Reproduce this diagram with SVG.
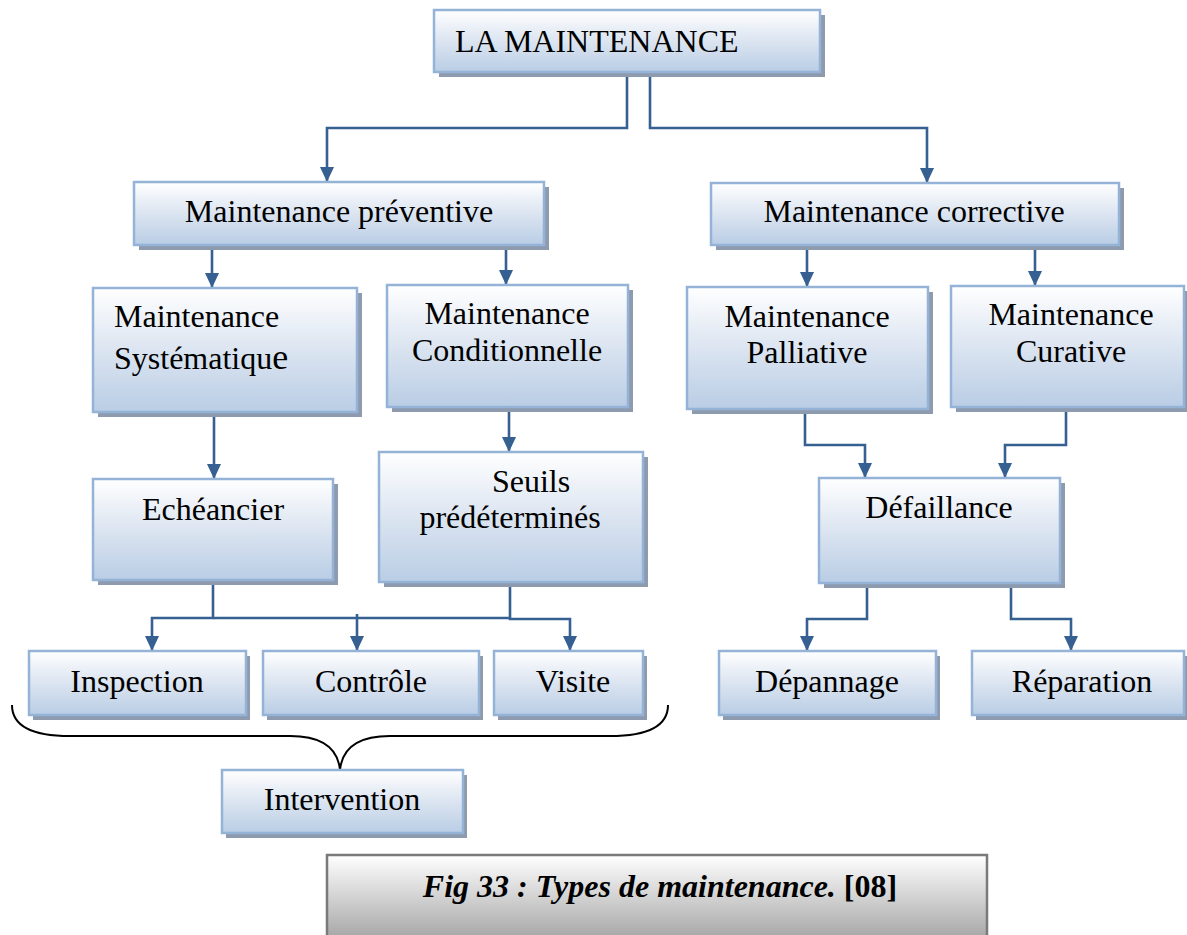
<svg xmlns="http://www.w3.org/2000/svg" width="1187" height="935" viewBox="0 0 1187 935">
<style>
.sh{fill:#8e9bae}
.bx{fill:url(#g);stroke:#95b3d7;stroke-width:2.5}
.t{font-family:"Liberation Serif","Times New Roman",serif;font-size:32px;fill:#000}
.c{text-anchor:middle}
.cn{fill:none;stroke:#376092;stroke-width:2.6}
.ar{marker-end:url(#ah)}
</style>
<defs>
<linearGradient id="g" x1="0" y1="0" x2="0" y2="1">
<stop offset="0" stop-color="#ffffff"/>
<stop offset="0.45" stop-color="#dfe7f2"/>
<stop offset="1" stop-color="#b9cde5"/>
</linearGradient>
<linearGradient id="gc" x1="0" y1="0" x2="0" y2="1">
<stop offset="0" stop-color="#ffffff"/>
<stop offset="1" stop-color="#9a9a9a"/>
</linearGradient>
<marker id="ah" markerUnits="userSpaceOnUse" markerWidth="16" markerHeight="16" viewBox="0 0 16 16" refX="15" refY="8" orient="auto">
<path d="M0,1 L15,8 L0,15 Z" fill="#376092"/>
</marker>
</defs>

<g id="connectors">
<path class="cn ar" d="M627,75 V128 H327 V182"/>
<path class="cn ar" d="M650,75 V128 H927 V183"/>
<path class="cn ar" d="M212,250 V288"/>
<path class="cn ar" d="M506,250 V285"/>
<path class="cn ar" d="M807,250 V287"/>
<path class="cn ar" d="M1035,250 V286"/>
<path class="cn ar" d="M214,416 V479"/>
<path class="cn ar" d="M509,412 V452"/>
<path class="cn ar" d="M805,413 V445 H865 V478"/>
<path class="cn ar" d="M1066,411 V445 H1005 V478"/>
<path class="cn ar" d="M213,585 V618 H152 V651"/>
<path class="cn" d="M213,618 H510"/>
<path class="cn ar" d="M357,614 V651"/>
<path class="cn ar" d="M510,586 V619 H570 V651"/>
<path class="cn ar" d="M867,588 V619 H807 V651"/>
<path class="cn ar" d="M1011,588 V619 H1071 V651"/>
</g>

<g id="n-maintenance">
<rect class="sh" x="439" y="15" width="386" height="62"/>
<rect class="bx" x="434" y="10" width="386" height="62"/>
<text class="t" x="455" y="52">LA MAINTENANCE</text>
</g>
<g id="n-preventive">
<rect class="sh" x="139" y="187" width="410" height="63"/>
<rect class="bx" x="134" y="182" width="410" height="63"/>
<text class="t c" x="339" y="222">Maintenance préventive</text>
</g>
<g id="n-corrective">
<rect class="sh" x="716" y="188" width="408" height="62"/>
<rect class="bx" x="711" y="183" width="408" height="62"/>
<text class="t c" x="914" y="222">Maintenance corrective</text>
</g>
<g id="n-systematique">
<rect class="sh" x="98" y="293" width="264" height="124"/>
<rect class="bx" x="93" y="288" width="264" height="124"/>
<text class="t" x="114" y="327">Maintenance</text>
<text class="t" x="114" y="369">Systématiqu<tspan font-size="36">e</tspan></text>
</g>
<g id="n-conditionnelle">
<rect class="sh" x="392" y="290" width="241" height="122"/>
<rect class="bx" x="387" y="285" width="241" height="122"/>
<text class="t c" x="507" y="324">Maintenance</text>
<text class="t c" x="507" y="361">Conditionnelle</text>
</g>
<g id="n-palliative">
<rect class="sh" x="692" y="292" width="241" height="122"/>
<rect class="bx" x="687" y="287" width="241" height="122"/>
<text class="t c" x="807" y="327">Maintenance</text>
<text class="t c" x="807" y="363">Palliative</text>
</g>
<g id="n-curative">
<rect class="sh" x="956" y="291" width="240" height="121"/>
<rect class="bx" x="951" y="286" width="233" height="121"/>
<text class="t c" x="1071" y="325">Maintenance</text>
<text class="t c" x="1071" y="362">Curative</text>
</g>
<g id="n-echeancier">
<rect class="sh" x="98" y="484" width="240" height="101"/>
<rect class="bx" x="93" y="479" width="240" height="101"/>
<text class="t c" x="213" y="520">Echéancier</text>
</g>
<g id="n-seuils">
<rect class="sh" x="384" y="457" width="264" height="130"/>
<rect class="bx" x="379" y="452" width="264" height="130"/>
<text class="t c" x="531" y="492">Seuils</text>
<text class="t c" x="510" y="528">prédéterminés</text>
</g>
<g id="n-defaillance">
<rect class="sh" x="824" y="483" width="241" height="105"/>
<rect class="bx" x="819" y="478" width="241" height="105"/>
<text class="t c" x="939" y="518">Défaillance</text>
</g>
<g id="n-inspection">
<rect class="sh" x="33" y="656" width="217" height="64"/>
<rect class="bx" x="29" y="651" width="217" height="64"/>
<text class="t c" x="137" y="692">Inspection</text>
</g>
<g id="n-controle">
<rect class="sh" x="267" y="656" width="216" height="64"/>
<rect class="bx" x="263" y="651" width="216" height="64"/>
<text class="t c" x="371" y="692">Contrôle</text>
</g>
<g id="n-visite">
<rect class="sh" x="498" y="656" width="149" height="64"/>
<rect class="bx" x="494" y="651" width="149" height="64"/>
<text class="t c" x="573" y="692">Visite</text>
</g>
<g id="n-depannage">
<rect class="sh" x="723" y="656" width="217" height="64"/>
<rect class="bx" x="719" y="651" width="217" height="64"/>
<text class="t c" x="827" y="692">Dépannage</text>
</g>
<g id="n-reparation">
<rect class="sh" x="976" y="656" width="215" height="64"/>
<rect class="bx" x="972" y="651" width="212" height="64"/>
<text class="t c" x="1082" y="692">Réparation</text>
</g>
<g id="brace">
<path d="M12,705 C12,725 30,736 70,736 L290,736 C325,736 338,750 340,770 C342,750 355,736 390,736 L610,736 C650,736 668,725 668,705" fill="none" stroke="#000" stroke-width="2"/>
</g>
<g id="n-intervention">
<rect class="sh" x="226" y="775" width="241" height="63"/>
<rect class="bx" x="222" y="770" width="241" height="63"/>
<text class="t c" x="342" y="810">Intervention</text>
</g>
<g id="caption">
<rect x="327" y="855" width="660" height="95" fill="url(#gc)" stroke="#7a7a7a" stroke-width="2.5"/>
<text class="t c" x="660" y="897" font-weight="bold"><tspan font-style="italic">Fig 33 : Types de maintenance.</tspan> [08]</text>
</g>
</svg>
